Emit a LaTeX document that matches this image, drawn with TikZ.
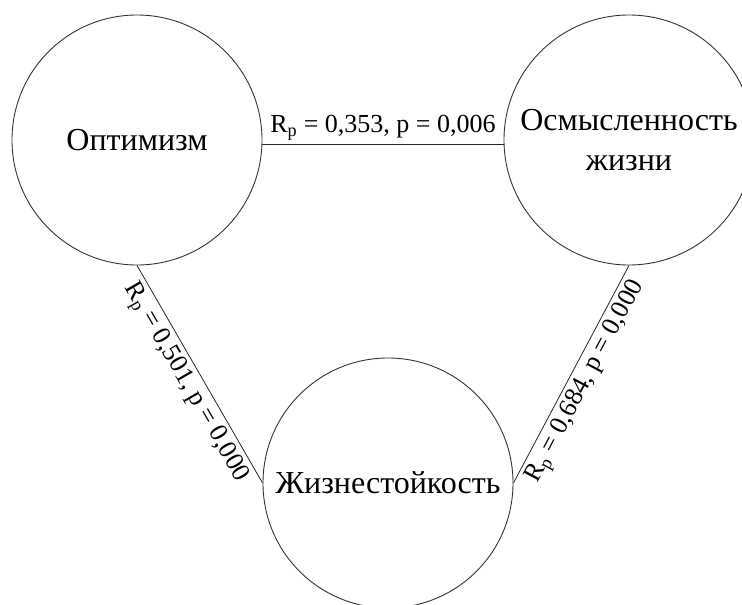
\documentclass[tikz,border=0pt]{standalone}
\usepackage{fontspec}
\setmainfont{Liberation Serif}
\begin{document}
\begin{tikzpicture}[x=1pt,y=1pt,
  circ/.style={circle, draw=black!80, line width=0.9pt, minimum size=250pt, inner sep=0pt, align=center, font=\fontsize{32}{40}\selectfont},
  conn/.style={draw=black!85, line width=0.8pt},
  lbl/.style={font=\fontsize{26}{30}\selectfont, inner sep=2pt}]
\useasboundingbox (0,-605) rectangle (742,0);
\clip (0,-605) rectangle (742,0);
\node[circ] (L) at (137,-140) {Оптимизм};
\node[circ] (R) at (629,-140) {Осмысленность\\жизни};
\node[circ] (B) at (388,-483) {Жизнестойкость};
\draw[conn] (L.-2) -- node[lbl, anchor=base, yshift=12pt] {R\textsubscript{p} = 0,353, p = 0,006} (R.182);
\draw[conn] (L.south) -- node[lbl, sloped, anchor=north, inner sep=4pt] {R\textsubscript{p} = 0,501, p = 0,000} (B.west);
\draw[conn] (B.east) -- node[lbl, sloped, anchor=north, inner sep=4pt] {R\textsubscript{p} = 0,684, p = 0,000} (R.south);
\end{tikzpicture}
\end{document}
